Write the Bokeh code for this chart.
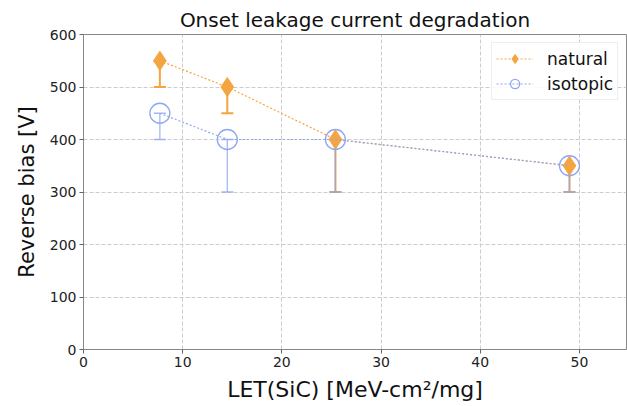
from bokeh.plotting import figure
from bokeh.models import ColumnDataSource, Whisker, TeeHead, Legend, LegendItem, Range1d, FixedTicker
from bokeh.embed import file_html
from bokeh.resources import INLINE

# ---- data ----
let_natural = [7.7, 14.5, 25.4, 49.0]
bias_natural = [550, 500, 400, 350]
err_natural_low = [50, 50, 100, 50]

let_isotopic = [7.7, 14.5, 25.4, 49.0]
bias_isotopic = [450, 400, 400, 350]
err_isotopic_low = [50, 100, 100, 50]

x_ticks = [0, 10, 20, 30, 40, 50]
y_ticks = [0, 100, 200, 300, 400, 500, 600]

ORANGE = "#f5a540"
BLUE = "#8fa6f3"
FONT = "DejaVu Sans"

src_nat = ColumnDataSource(dict(x=let_natural, y=bias_natural,
                                lo=[y - e for y, e in zip(bias_natural, err_natural_low)]))
src_iso = ColumnDataSource(dict(x=let_isotopic, y=bias_isotopic,
                                lo=[y - e for y, e in zip(bias_isotopic, err_isotopic_low)]))

p = figure(width=627, height=406, output_backend="svg", toolbar_location=None,
           x_range=Range1d(0, 54.75), y_range=Range1d(0, 600),
           min_border_left=83, min_border_right=1, min_border_top=34, min_border_bottom=57,
           title="Onset leakage current degradation")

p.title.align = "center"
p.title.text_font = FONT
p.title.text_font_size = "20px"
p.title.text_font_style = "normal"
p.title.text_color = "#111111"
p.title.standoff = 6

# grid
for g in (p.xgrid, p.ygrid):
    g.grid_line_color = "#cccccc"
    g.grid_line_dash = "4 2"
    g.grid_line_width = 1

# axes
p.xaxis.ticker = FixedTicker(ticks=x_ticks)
p.yaxis.ticker = FixedTicker(ticks=y_ticks)
for ax in (p.xaxis, p.yaxis):
    ax.minor_tick_line_color = None
    ax.major_tick_in = 0
    ax.major_tick_out = 4
    ax.major_tick_line_color = "#666666"
    ax.axis_line_color = "#888888"
    ax.major_label_text_font = FONT
    ax.major_label_text_font_size = "14px"
    ax.major_label_text_color = "#222222"
    ax.axis_label_text_font = FONT
    ax.axis_label_text_font_style = "normal"
    ax.axis_label_text_color = "#111111"
p.xaxis.axis_label = "LET(SiC) [MeV-cm²/mg]"
p.yaxis.axis_label = "Reverse bias [V]"
p.xaxis.axis_label_text_font_size = "22px"
p.yaxis.axis_label_text_font_size = "21px"
p.xaxis.axis_label_standoff = 7
p.yaxis.axis_label_standoff = 8
p.xaxis.major_label_standoff = 3
p.yaxis.major_label_standoff = 3
p.outline_line_color = "#888888"

# error bars (natural first, isotopic on top)
w_nat = Whisker(source=src_nat, base="x", upper="y", lower="lo",
                line_color=ORANGE, line_width=2,
                upper_head=TeeHead(size=12, line_color=ORANGE, line_width=2),
                lower_head=TeeHead(size=12, line_color=ORANGE, line_width=2))
w_iso = Whisker(source=src_iso, base="x", upper="y", lower="lo",
                line_color=BLUE, line_width=1.3, line_alpha=0.8,
                upper_head=TeeHead(size=12, line_color=BLUE, line_width=1.3, line_alpha=0.8),
                lower_head=TeeHead(size=12, line_color=BLUE, line_width=1.3, line_alpha=0.8))
p.add_layout(w_nat)
p.add_layout(w_iso)

# natural
l_nat = p.line("x", "y", source=src_nat, line_color=ORANGE, line_width=1.2, line_dash="2 2")
m_nat = p.scatter("x", "y", source=src_nat, marker="diamond", size=19,
                  fill_color=ORANGE, line_color=ORANGE, line_width=1)

# isotopic
l_iso = p.line("x", "y", source=src_iso, line_color=BLUE, line_width=1.2, line_dash="2 2")
m_iso = p.scatter("x", "y", source=src_iso, marker="circle", size=20,
                  fill_color=None, line_color=BLUE, line_width=1.3)

legend = Legend(items=[LegendItem(label="natural", renderers=[l_nat, m_nat]),
                       LegendItem(label="isotopic", renderers=[l_iso, m_iso])],
                location="top_right")
legend.label_text_font = FONT
legend.label_text_font_size = "17px"
legend.label_text_color = "#111111"
legend.glyph_width = 37
legend.glyph_height = 23
legend.label_standoff = 14
legend.label_height = 23
legend.spacing = 2
legend.padding = 4
legend.margin = 8
legend.border_line_color = "#dddddd"
legend.background_fill_alpha = 0.85
p.add_layout(legend)

open("out.html", "w").write(file_html(p, INLINE))
